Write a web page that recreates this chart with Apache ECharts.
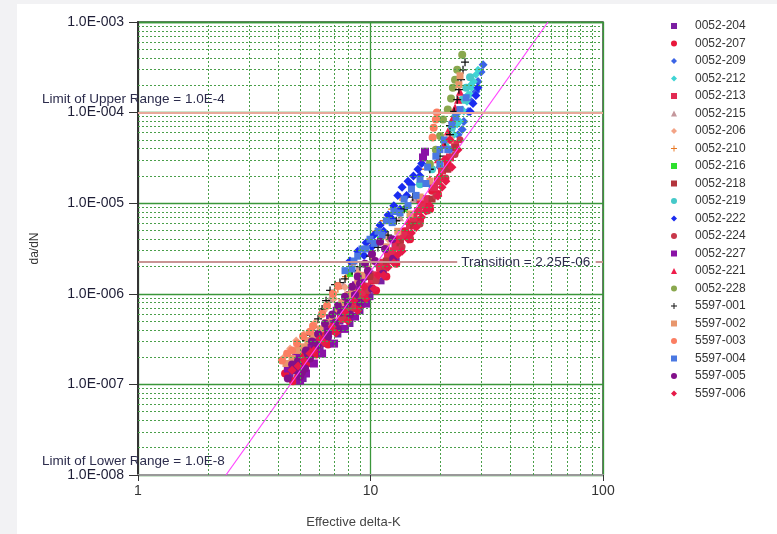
<!DOCTYPE html>
<html>
<head>
<meta charset="utf-8">
<script src="https://cdn.jsdelivr.net/npm/echarts@6/dist/echarts.min.js"></script>
<style>
html, body { margin: 0; padding: 0; background: #f2f2f4; }
#chart { position: absolute; left: 17px; top: 4px; width: 760px; height: 530px; background: #fff; }
</style>
</head>
<body>
<div id="chart"></div>
<script>
// specimen names, in legend order
var specimens = ['0052-204', '0052-207', '0052-209', '0052-212', '0052-213', '0052-215', '0052-206',
  '0052-210', '0052-216', '0052-218', '0052-219', '0052-222', '0052-224', '0052-227', '0052-221',
  '0052-228', '5597-001', '5597-002', '5597-003', '5597-004', '5597-005', '5597-006'];

// [effective delta-K, da/dN]
var d0052_204 = [[5.13,1.16e-7],[4.51,1.27e-7],[5.38,1.70e-7],[4.98,1.60e-7],[5.77,2.14e-7],[6.07,2.6e-7],
  [6.57,3.2e-7],[6.9,4.1e-7],[7.39,5.0e-7],[7.77,6.5e-7],[8.33,8.4e-7],[8.75,1.09e-6],[9.19,1.36e-6],
  [9.95,1.66e-6],[10.77,2.14e-6],[11.9,2.65e-6],[12.75,3.54e-6],[14.08,4.9e-6],
  [4.79,1.6e-7],[5.23,2.0e-7],[6.44,2.82e-7],[7.24,3.6e-7],[8.16,4.7e-7],[9.01,6.5e-7],[9.95,9.3e-7],
  [11.1,1.39e-6],[12.9,2.3e-6]];
var d0052_207 = [[4.64,1.08e-7],[4.29,1.32e-7],[4.51,1.66e-7],[4.98,2.19e-7],[5.6,2.6e-7],[6.19,3.5e-7],
  [6.97,4.6e-7],[7.85,5.6e-7],[8.66,7.1e-7],[9.47,1.0e-6],[10.15,1.39e-6],[11.2,1.88e-6],[12.13,2.6e-6],
  [13.1,3.54e-6],[14.08,4.9e-6],[15.3,7.0e-6],[17.0,9.8e-6],[18.4,1.37e-5],[19.9,1.94e-5],
  [4.88,1.22e-7],[5.28,1.66e-7],[5.83,2.14e-7],[6.57,2.75e-7],[7.39,4.1e-7],[8.33,5.6e-7],[9.19,7.6e-7],
  [10.57,1.09e-6],[11.7,1.55e-6],[12.9,2.14e-6],[14.79,4.0e-6],[16.33,6.4e-6],[18.03,8.6e-6],[19.5,1.26e-5],
  [21.5,2.7e-5]];
var d0052_209 = [[30.5,3.37e-4],[29.9,2.8e-4],[29.0,2.2e-4],[28.4,1.7e-4],[27.2,1.32e-4],[26.3,1.03e-4],
  [25.2,8.0e-5],[23.8,5.7e-5],[21.98,3.9e-5],[19.91,2.5e-5],[18.03,1.62e-5],[16.0,1.11e-5],[24.8,6.5e-5]];
var d0052_212 = [[28.4,2.62e-4],[27.8,2.2e-4],[27.2,1.88e-4],[26.8,1.58e-4],[26.0,1.32e-4],[25.2,1.03e-4],
  [24.27,8.0e-5],[22.9,5.7e-5],[21.5,4.1e-5],[29.0,2.97e-4],[27.0,2.03e-4],[26.3,1.58e-4],[24.8,1.08e-4],
  [23.6,7.4e-5]];
var d0052_213 = [[5.95,2.82e-7],[6.7,3.9e-7],[7.46,5.3e-7],[8.33,7.6e-7],[9.19,1.03e-6],[10.15,1.46e-6],
  [10.99,1.96e-6],[11.9,2.6e-6],[12.9,3.3e-6],[13.95,4.4e-6],[14.79,5.7e-6],[16.0,8.2e-6],[17.3,1.11e-5],
  [18.76,1.5e-5],[20.3,2.3e-5],[21.98,3.2e-5],
  [5.38,1.99e-7],[6.31,3.2e-7],[7.1,4.7e-7],[7.9,6.5e-7],[8.66,8.8e-7],[9.57,1.2e-6],[10.57,1.6e-6],
  [11.4,2.2e-6],[12.4,2.95e-6],[13.4,4.0e-6],[15.3,6.7e-6],[16.6,9.4e-6],[19.5,1.75e-5],[23.1,4.45e-5]];
var d0052_215 = [[6.7,8.8e-7],[7.66,1.24e-6],[8.81,1.88e-6],[10.15,2.95e-6],[11.7,4.45e-6],[13.4,7.0e-6],
  [15.3,1.11e-5]];
var d0052_206 = [[4.24,1.99e-7],[4.51,2.49e-7],[4.79,3.05e-7],[5.18,3.6e-7],[5.77,4.8e-7],[6.31,6.5e-7],
  [6.97,8.8e-7],[7.77,1.18e-6],[8.81,1.7e-6],[10.15,2.6e-6],[11.9,4.0e-6]];
var d0052_210 = [[7.24,1.14e-6],[7.85,1.55e-6],[8.33,2.1e-6],[9.01,2.75e-6],[9.75,3.6e-6],[10.57,4.9e-6],
  [11.4,6.4e-6],[12.4,8.6e-6],[13.4,1.17e-5],[14.79,1.62e-5],[16.33,2.37e-5]];
var d0052_216 = [[8.16,1.66e-6],[10.99,4.0e-6],[14.08,8.6e-6]];
var d0052_218 = [[7.39,6.8e-7],[8.66,1.09e-6],[9.95,1.55e-6],[11.7,2.3e-6],[13.4,3.65e-6],[15.3,5.7e-6],
  [18.4,1.11e-5],[21.5,2.37e-5],[23.3,4.1e-5]];
var d0052_219 = [[25.8,1.88e-4],[24.8,1.39e-4],[23.8,1.03e-4],[22.4,6.8e-5],[20.92,4.45e-5],[18.4,2.37e-5],
  [16.33,1.62e-5],[26.8,2.45e-4],[25.5,1.39e-4],[23.1,8.9e-5]];
var d0052_222 = [[8.16,2.3e-6],[8.81,2.95e-6],[9.57,3.65e-6],[10.36,4.45e-6],[10.99,5.7e-6],[11.9,7.4e-6],
  [12.6,9.4e-6],[13.1,1.22e-5],[13.67,1.5e-5],[14.5,1.75e-5],[15.3,2.0e-5],[16.0,2.37e-5],[16.6,2.75e-5],
  [26.8,1.03e-4],[27.6,1.26e-4],[28.4,1.54e-4],[29.0,1.88e-4],
  [9.38,2.65e-6],[10.15,3.3e-6],[11.4,4.9e-6],[12.4,6.7e-6],[13.4,8.6e-6],[14.3,1.22e-5],[15.0,1.6e-5],
  [16.33,2.0e-5]];
var d0052_224 = [[5.28,1.99e-7],[6.44,3.4e-7],[7.66,5.6e-7],[9.01,8.8e-7],[10.57,1.39e-6],[12.4,2.3e-6],
  [14.79,4.2e-6],[17.6,8.2e-6],[21.1,1.9e-5],[23.1,3.45e-5],[24.27,5.0e-5],
  [4.79,1.84e-7],[5.83,2.6e-7],[7.1,4.3e-7],[8.33,6.8e-7],[9.75,1.09e-6],[11.4,1.8e-6],[13.67,3.3e-6],
  [16.33,5.9e-6],[19.1,1.2e-5]];
var d0052_227 = [[4.41,1.50e-7],[4.79,1.99e-7],[5.07,2.49e-7],[5.49,2.82e-7],[5.95,3.4e-7],[6.44,4.3e-7],
  [6.7,5.3e-7],[7.16,6.5e-7],[7.66,7.8e-7],[8.16,9.7e-7],[8.66,1.24e-6],[9.29,1.55e-6],[17.16,3.7e-5],
  [16.82,3.2e-5],[4.98,1.1e-7],[5.28,1.32e-7],[5.71,1.70e-7],[6.19,2.19e-7],[6.97,2.82e-7],[7.77,4.1e-7],
  [8.58,5.6e-7],[9.57,7.8e-7]];
var d0052_221 = [[24.27,1.7e-4],[23.8,1.39e-4],[23.1,1.14e-4],[22.4,8.4e-5],[21.5,6.2e-5],[20.7,4.45e-5],
  [19.5,3.05e-5],[18.0,1.84e-5],[16.33,1.11e-5],[14.5,6.4e-6],[12.9,4.0e-6]];
var d0052_228 = [[24.8,4.34e-4],[23.6,2.97e-4],[23.1,2.31e-4],[22.6,1.88e-4],[22.2,1.43e-4],[21.5,1.08e-4],
  [20.5,8.4e-5],[19.9,5.5e-5],[19.1,3.9e-5],[18.0,2.7e-5]];
var d5597_001 = [[25.5,3.6e-4],[25.0,2.97e-4],[24.5,2.31e-4],[24.0,1.79e-4],[23.6,1.39e-4],[22.9,1.03e-4],
  [21.98,7.2e-5],[20.92,4.8e-5],[19.91,3.3e-5],[15.2,1.17e-5],[12.9,6.4e-6],[10.77,3.25e-6],[9.01,2.0e-6],
  [7.77,1.46e-6],[7.04,1.26e-6],[6.44,8.4e-7],[5.95,5.3e-7],[5.49,3.5e-7],[4.98,2.49e-7],
  [6.7,1.09e-6],[6.19,6.8e-7],[5.71,4.3e-7],[5.28,3.05e-7],[7.39,1.33e-6],[8.33,1.8e-6],[9.95,2.6e-6],
  [11.9,4.45e-6],[13.95,8.6e-6],[18.0,2.37e-5],[21.98,5.7e-5]];
var d5597_002 = [[4.33,1.7e-7],[4.88,2.37e-7],[5.38,3.05e-7],[6.07,4.1e-7],[6.85,5.6e-7],[7.53,8.0e-7],
  [8.33,1.14e-6],[9.19,1.6e-6],[10.36,2.3e-6],[11.7,3.3e-6],[13.1,4.9e-6],[14.79,7.6e-6],[16.33,1.17e-5],
  [18.03,1.75e-5],[19.91,2.7e-5],[21.98,5.0e-5],[24.0,2.03e-4],[24.27,2.55e-4],
  [4.6,1.93e-7],[5.18,2.6e-7],[5.71,3.5e-7],[6.44,4.8e-7],[7.24,6.8e-7],[7.99,9.7e-7],[8.81,1.33e-6],
  [9.75,1.88e-6]];
var d5597_003 = [[4.16,1.84e-7],[4.38,2.19e-7],[4.6,2.37e-7],[4.83,2.82e-7],[5.13,3.4e-7],[5.49,3.8e-7],
  [5.66,4.4e-7],[6.19,6.0e-7],[6.5,7.4e-7],[6.9,1.0e-6],[7.24,1.22e-6],[18.5,5.3e-5],[18.7,6.8e-5],
  [19.1,8.4e-5],[19.3,1.0e-4]];
var d5597_004 = [[7.77,1.8e-6],[8.49,2.3e-6],[9.19,3.12e-6],[9.95,4.0e-6],[10.77,4.9e-6],[11.7,6.4e-6],
  [12.6,8.1e-6],[13.95,1.11e-5],[15.0,1.43e-5],[16.33,1.84e-5],[17.6,2.5e-5],[19.1,3.3e-5],[20.7,5.0e-5],
  [22.4,7.4e-5],[24.27,1.08e-4],[25.8,1.46e-4],
  [8.33,1.88e-6],[8.81,2.6e-6],[9.57,3.12e-6],[10.36,3.6e-6],[11.2,4.45e-6],[12.4,6.1e-6],[13.4,7.8e-6],
  [14.5,9.4e-6],[15.7,1.22e-5],[17.3,1.65e-5],[19.9,2.7e-5],[21.5,3.9e-5],[23.3,8.9e-5],[19.9,3.9e-5]];
var d5597_005 = [[4.98,1.22e-7],[4.74,1.43e-7],[5.23,1.50e-7],[4.88,1.84e-7],[5.49,1.93e-7],[5.28,2.37e-7],
  [5.77,2.49e-7],[5.6,2.97e-7],[6.19,3.05e-7],[5.95,3.6e-7],[6.57,3.8e-7],[6.37,4.7e-7],[7.04,4.8e-7],
  [6.85,5.9e-7],[7.46,6.2e-7],[7.24,7.4e-7],[7.99,7.8e-7],[7.77,9.3e-7],[8.58,9.7e-7],[8.33,1.2e-6],
  [9.01,1.29e-6],[8.81,1.55e-6],[9.75,1.8e-6],[9.47,2.14e-6],[10.46,2.3e-6],[10.15,2.75e-6],[11.55,3.12e-6],
  [10.99,3.75e-6],[12.4,4.0e-6],
  [4.41,1.16e-7],[5.07,1.36e-7],[4.6,1.66e-7],[5.38,2.14e-7],[5.95,2.75e-7],[6.57,3.4e-7],[7.24,4.1e-7],
  [8.16,5.9e-7],[9.01,8.0e-7],[10.15,1.14e-6],[11.3,1.66e-6],[12.5,2.43e-6]];
var d5597_006 = [[4.6,1.43e-7],[5.18,1.84e-7],[5.71,2.37e-7],[6.31,2.9e-7],[7.1,3.7e-7],[7.99,5.0e-7],
  [8.81,6.5e-7],[9.57,8.8e-7],[10.36,1.14e-6],[11.4,1.6e-6],[12.6,2.2e-6],[13.67,2.95e-6],[14.5,4.0e-6],
  [15.7,5.4e-6],[16.6,7.0e-6],[18.0,9.4e-6],[19.5,1.2e-5],[21.1,1.75e-5],[22.4,2.5e-5],[23.8,3.9e-5],
  [4.88,1.6e-7],[5.49,2.19e-7],[6.07,3.2e-7],[6.85,4.3e-7],[7.77,6.2e-7],[8.49,8.4e-7],[9.38,1.2e-6],
  [10.77,1.6e-6],[11.9,1.96e-6],[13.1,2.7e-6],[15.0,4.7e-6],[17.3,8.2e-6],[20.3,1.5e-5],[21.98,5.0e-5],
  [20.92,3.05e-5]];

var seriesData = [d0052_204, d0052_207, d0052_209, d0052_212, d0052_213, d0052_215, d0052_206,
  d0052_210, d0052_216, d0052_218, d0052_219, d0052_222, d0052_224, d0052_227, d0052_221,
  d0052_228, d5597_001, d5597_002, d5597_003, d5597_004, d5597_005, d5597_006];

// fitted power-law line, two end points
var fitLine = [[2.39, 1e-8], [58, 1e-3]];

// range limits
var upperLimit = 1e-4;
var transition = 2.25e-6;
var lowerLimit = 1e-8;

var plus = 'path://M4.2,0H5.8V4.2H10V5.8H5.8V10H4.2V5.8H0V4.2H4.2Z';
var colors = ['#7b1fa2', '#e8173a', '#3b64e6', '#3fd4d4', '#e22a52', '#c4979c', '#f3a386',
  '#e87722', '#2ee02e', '#b3343c', '#45c9c9', '#1a2cf0', '#c8384a', '#8a12a6', '#ef1c4a',
  '#8aa84e', '#111111', '#e8966c', '#fb7e62', '#4a78e2', '#82108a', '#e61a48'];
var symbols = ['rect', 'circle', 'diamond', 'diamond', 'rect', 'triangle', 'diamond',
  plus, 'rect', 'rect', 'circle', 'diamond', 'circle', 'rect', 'triangle',
  'circle', plus, 'rect', 'circle', 'rect', 'circle', 'diamond'];
var sizes = [7, 8, 9, 8, 8, 8, 8, 8, 6, 7, 8, 9, 7, 8, 8, 8, 8, 7, 8, 7, 8, 9];

// minor grid lines (2..9 in every decade)
var minorLines = [];
[1, 10].forEach(function (d) {
  for (var i = 2; i <= 9; i++) minorLines.push([{ coord: [d * i, 1e-8] }, { coord: [d * i, 1e-3] }]);
});
[1e-8, 1e-7, 1e-6, 1e-5, 1e-4].forEach(function (d) {
  for (var i = 2; i <= 9; i++) minorLines.push([{ coord: [1, d * i] }, { coord: [100, d * i] }]);
});

var font = 'Liberation Sans, Arial, sans-serif';
var chart = echarts.init(document.getElementById('chart'));

var limitStyle = { color: '#e9a99a', width: 2, type: 'solid' };
var transStyle = { color: '#c99494', width: 2, type: 'solid' };

var series = [
  {
    name: 'grid', type: 'line', data: fitLine, silent: true, showSymbol: false,
    lineStyle: { opacity: 0 },
    markLine: {
      silent: true, symbol: 'none', animation: false, label: { show: false },
      lineStyle: { color: '#4a9f4a', width: 1, type: [2, 2] },
      data: minorLines
    }
  },
  {
    name: 'fit', type: 'line', data: fitLine, showSymbol: false, silent: true,
    lineStyle: { color: '#ff44ff', width: 1.2 },
    markLine: {
      silent: true, symbol: 'none', animation: false,
      label: { show: false },
      data: [
        [{ coord: [1, upperLimit], lineStyle: limitStyle }, { coord: [100, upperLimit] }],
        [{ coord: [1, transition], lineStyle: transStyle,
           label: { show: true, position: 'end', distance: 4, formatter: 'Transition = 2.25E-06',
                    color: '#2c2c4c', fontSize: 13.5, fontFamily: font } },
         { coord: [23.6, transition] }],
        [{ coord: [93, transition], lineStyle: transStyle }, { coord: [100, transition] }]
      ]
    }
  }
];
specimens.forEach(function (name, i) {
  series.push({
    name: name, type: 'scatter', data: seriesData[i],
    symbol: symbols[i], symbolSize: sizes[i],
    itemStyle: { color: colors[i], opacity: 1 }
  });
});

chart.setOption({
  animation: false,
  backgroundColor: '#fff',
  grid: { left: 121, right: 174, top: 18, bottom: 57, show: true, borderColor: '#444', borderWidth: 1.5 },
  legend: {
    orient: 'vertical', left: 649, top: 10, data: specimens,
    itemWidth: 6, itemHeight: 6, itemGap: 3.5,
    textStyle: { color: '#333', fontSize: 12, fontFamily: font, lineHeight: 14, padding: [0, 0, 0, 13] }
  },
  xAxis: {
    type: 'log', logBase: 10, min: 1, max: 100, splitNumber: 2,
    name: 'Effective delta-K', nameLocation: 'middle', nameGap: 41,
    nameTextStyle: { color: '#444', fontSize: 13, fontFamily: font, padding: [0, 34, 0, 0] },
    axisLine: { lineStyle: { color: '#999', width: 2 } },
    axisTick: { show: true, length: 6, lineStyle: { color: '#333' } },
    axisLabel: { color: '#333', fontSize: 14, fontFamily: font, margin: 9 },
    splitLine: { show: true, lineStyle: { color: '#3a963a', width: 1.3 } }
  },
  yAxis: {
    type: 'log', logBase: 10, min: lowerLimit, max: 1e-3, splitNumber: 5,
    name: 'da/dN', nameLocation: 'middle', nameGap: 97, nameRotate: 90,
    nameTextStyle: { color: '#333', fontSize: 12, fontFamily: font },
    axisLine: { lineStyle: { color: '#333', width: 2 } },
    axisTick: { show: true, length: 9, lineStyle: { color: '#333' } },
    axisLabel: {
      color: '#1e1e36', fontSize: 14, fontFamily: font, margin: 14,
      formatter: function (v) {
        var e = Math.round(Math.log10(v));
        return '1.0E-' + String(-e).padStart(3, '0');
      }
    },
    splitLine: { show: true, lineStyle: { color: '#3a963a', width: 1.3 } }
  },
  series: series
});

// range-limit captions, placed through the y scale
var yUp = chart.convertToPixel({ xAxisIndex: 0, yAxisIndex: 0 }, [1, upperLimit])[1];
var yLow = chart.convertToPixel({ xAxisIndex: 0, yAxisIndex: 0 }, [1, lowerLimit])[1];
chart.setOption({
  graphic: [
    { type: 'text', left: 25, top: yUp - 20, z: 100,
      style: { text: 'Limit of Upper Range = 1.0E-4', fill: '#2c2c4c', font: '13.5px ' + font } },
    { type: 'text', left: 25, top: yLow - 21, z: 100,
      style: { text: 'Limit of Lower Range = 1.0E-8', fill: '#2c2c4c', font: '13.5px ' + font } }
  ]
});
</script>
</body>
</html>
